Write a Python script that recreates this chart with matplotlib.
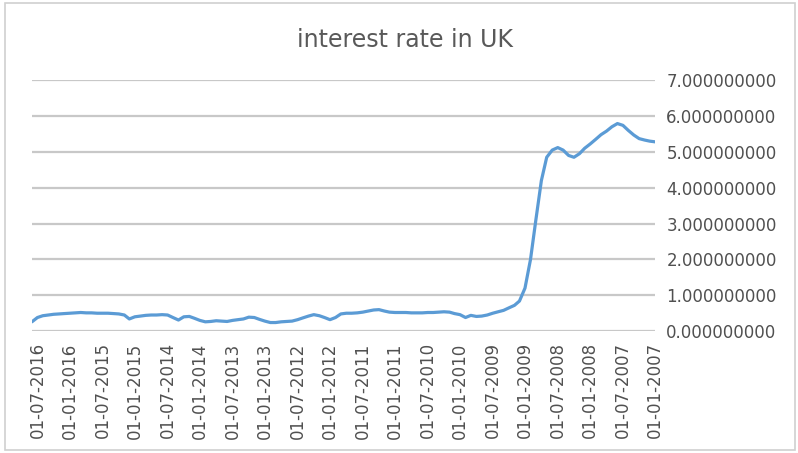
import numpy as np
import pandas as pd
import matplotlib
matplotlib.use("Agg")
import matplotlib.pyplot as plt
import matplotlib.dates as mdates
from matplotlib.patches import Rectangle

# monthly rate, newest first (Aug 2016 back to Jan 2007)
rate = [0.26, 0.38, 0.43, 0.45, 0.47, 0.48, 0.49, 0.50, 0.51, 0.52,
        0.51, 0.51, 0.50, 0.50, 0.50, 0.49, 0.48, 0.45, 0.34, 0.40,
        0.42, 0.44, 0.45, 0.45, 0.46, 0.45, 0.38, 0.31, 0.40, 0.41,
        0.36, 0.30, 0.26, 0.27, 0.29, 0.28, 0.27, 0.30, 0.32, 0.34,
        0.39, 0.38, 0.33, 0.28, 0.24, 0.24, 0.26, 0.27, 0.28, 0.32,
        0.37, 0.42, 0.46, 0.43, 0.38, 0.32, 0.38, 0.48, 0.50, 0.50,
        0.51, 0.53, 0.56, 0.59, 0.60, 0.56, 0.53, 0.52, 0.52, 0.52,
        0.51, 0.51, 0.51, 0.52, 0.52, 0.53, 0.54, 0.53, 0.49, 0.46,
        0.38, 0.44, 0.41, 0.42, 0.45, 0.50, 0.54, 0.58, 0.65, 0.72,
        0.84, 1.20, 2.00, 3.10, 4.20, 4.85, 5.05, 5.12, 5.05, 4.90,
        4.85, 4.95, 5.10, 5.22, 5.35, 5.48, 5.58, 5.70, 5.79, 5.74,
        5.60, 5.47, 5.37, 5.33, 5.30, 5.28]
dates = pd.date_range(end="2016-08-01", periods=len(rate), freq="MS")[::-1]

yticks = [0, 1, 2, 3, 4, 5, 6, 7]
title = "interest rate in UK"

grey = "#505050"
fig = plt.figure(figsize=(7.98, 4.53), dpi=100)
ax = fig.add_axes([0.040, 0.269, 0.781, 0.554])

ax.plot(dates, rate, color="#5B9BD5", lw=2.3, solid_capstyle="round")

ax.set_xlim(dates[0], dates[-1])
ax.set_ylim(0, 7)
ax.set_yticks(yticks)
ax.yaxis.set_major_formatter(plt.FuncFormatter(lambda v, p: "%.9f" % v))
ax.yaxis.tick_right()
ax.grid(axis="y", color="#c8c8c8", lw=1.6)
ax.set_axisbelow(True)

ax.xaxis.set_major_locator(mdates.MonthLocator(bymonth=[1, 7]))
ax.xaxis.set_major_formatter(mdates.DateFormatter("%d-%m-%Y"))
plt.setp(ax.get_xticklabels(), rotation=90)

ax.tick_params(axis="y", length=0, pad=8, labelsize=12, labelcolor=grey)
ax.tick_params(axis="x", length=0, pad=8, labelsize=12, labelcolor=grey)
for s in ax.spines.values():
    s.set_visible(False)

fig.text(0.507, 0.912, title, ha="center", va="center", fontsize=17, color="#595959")
fig.patches.append(Rectangle((0.006, 0.007), 0.99, 0.987, transform=fig.transFigure,
                             fill=False, edgecolor="#d0d0d0", lw=1.2))

fig.savefig("out.png", dpi=100)
